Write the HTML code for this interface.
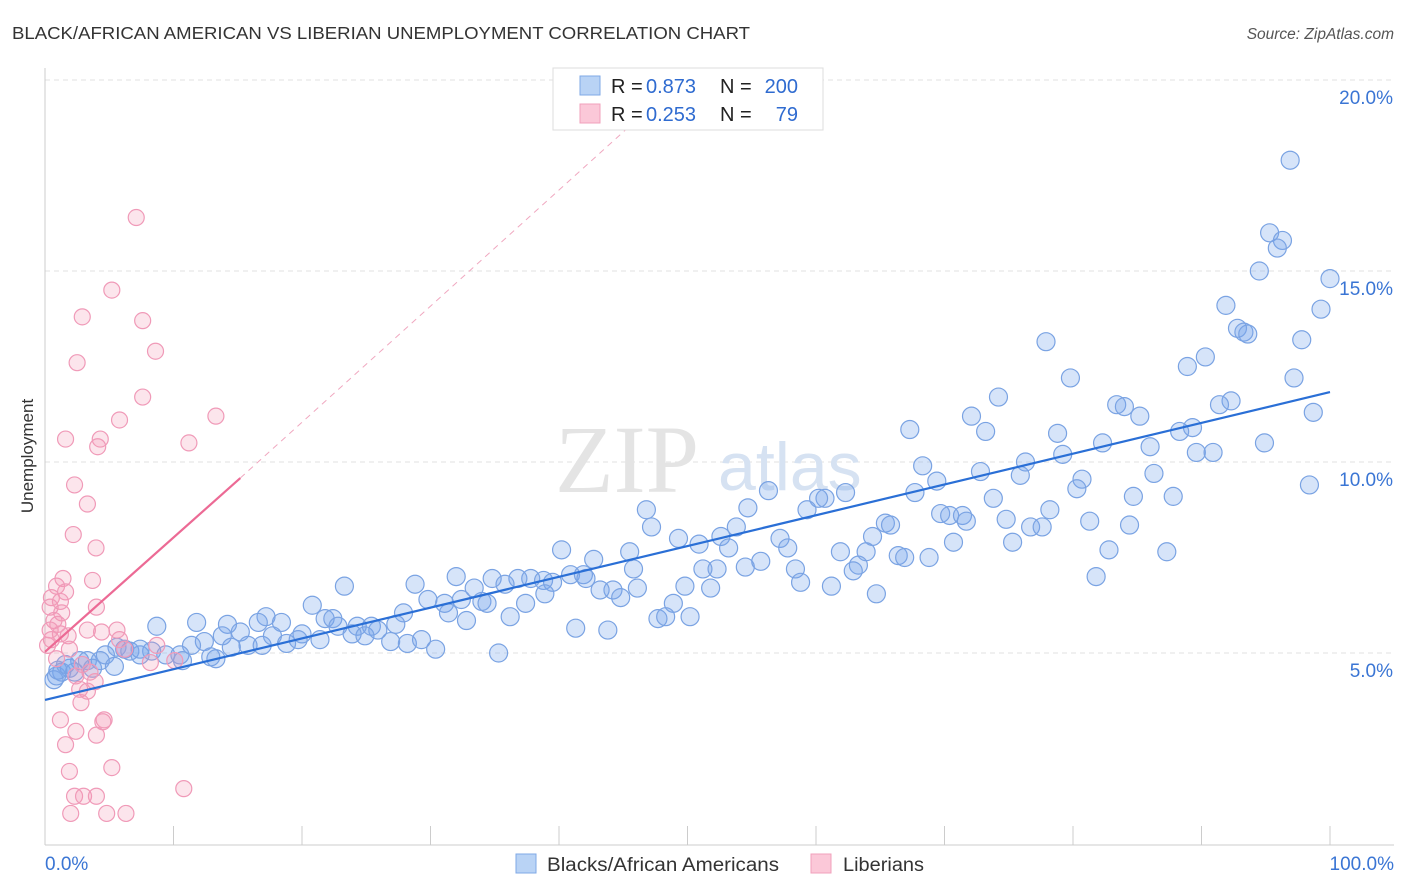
<!DOCTYPE html>
<html><head><meta charset="utf-8">
<style>
body{margin:0;background:#fff;font-family:"Liberation Sans",sans-serif;}
svg{display:block}
</style></head>
<body>
<svg id="chart" width="1406" height="892">
<text x="12" y="39" font-size="17.5" fill="#333" textLength="738" lengthAdjust="spacingAndGlyphs">BLACK/AFRICAN AMERICAN VS LIBERIAN UNEMPLOYMENT CORRELATION CHART</text>
<text x="1394" y="39" font-size="15.5" fill="#555" font-style="italic" text-anchor="end">Source: ZipAtlas.com</text>
<text transform="translate(33,456) rotate(-90)" font-size="17" fill="#333" text-anchor="middle">Unemployment</text>
<g id="grid"></g>
<text x="555" y="492" font-size="96" fill="#e4e4e4" font-family="Liberation Serif,serif">ZIP</text>
<text x="718" y="490" font-size="68" fill="#d6e2f2">atlas</text>
<g id="pts"></g>
<g id="lines"></g>
<g>
<rect x="553" y="68" width="270" height="62" fill="#fff" stroke="#ddd"/>
<rect x="580" y="76" width="20" height="19" fill="#b9d3f5" stroke="#7fa8e6"/>
<rect x="580" y="104" width="20" height="19" fill="#fbc8d8" stroke="#f0a0bb"/>
<text x="611" y="93" font-size="20" fill="#222">R =</text>
<text x="646" y="93" font-size="20" fill="#2f6bd0">0.873</text>
<text x="720" y="93" font-size="20" fill="#222">N =</text>
<text x="798" y="93" font-size="20" fill="#2f6bd0" text-anchor="end">200</text>
<text x="611" y="121" font-size="20" fill="#222">R =</text>
<text x="646" y="121" font-size="20" fill="#2f6bd0">0.253</text>
<text x="720" y="121" font-size="20" fill="#222">N =</text>
<text x="798" y="121" font-size="20" fill="#2f6bd0" text-anchor="end">79</text>
</g>
<g>
<rect x="516" y="854" width="20" height="19" fill="#b9d3f5" stroke="#7fa8e6"/>
<text x="547" y="871" font-size="19" fill="#333" textLength="232" lengthAdjust="spacingAndGlyphs">Blacks/African Americans</text>
<rect x="811" y="854" width="20" height="19" fill="#fbc8d8" stroke="#f0a0bb"/>
<text x="843" y="871" font-size="19" fill="#333" textLength="81" lengthAdjust="spacingAndGlyphs">Liberians</text>
</g>
</svg>
<script>
const yTicks=[5,10,15,20];
const yTickLabels=["5.0%","10.0%","15.0%","20.0%"];
const xTicks=[0,10,20,30,40,50,60,70,80,90,100];
const blueX=[96.9,95.3,96.3,95.9,94.5,100,99.3,91.9,92.8,93.3,93.6,97.8,77.9,90.3,88.9,97.2,79.8,74.2,92.3,91.4,83.4,84.0,72.1,85.2,98.7,67.3,89.3,88.3,73.2,78.8,82.3,94.9,86.0,79.2,89.6,90.9,76.3,68.3,72.8,75.9,86.3,80.7,69.4,98.4,80.3,56.3,62.3,67.7,60.7,84.7,60.2,73.8,87.8,46.8,59.3,54.7,78.2,69.7,70.4,71.4,71.7,74.8,65.4,65.8,81.3,76.7,77.6,47.2,53.8,84.4,64.4,57.2,49.3,52.6,75.3,50.9,70.7,57.8,63.9,61.9,82.8,87.3,45.5,40.2,53.2,66.4,66.9,68.8,42.7,55.7,54.5,52.3,51.2,45.8,63.3,58.4,62.9,32.0,34.8,36.8,37.8,38.8,40.9,41.9,42.1,39.5,23.3,28.8,81.8,35.8,61.2,44.2,46.1,49.8,51.8,58.8,43.2,33.4,38.9,64.7,29.8,31.1,32.4,34.0,34.4,37.4,44.8,48.9,20.8,27.9,31.4,17.2,21.8,22.4,32.8,36.2,47.7,50.2,48.3,8.7,11.8,14.2,16.6,18.4,22.8,24.3,25.4,25.9,27.3,41.3,43.8,13.8,15.2,17.7,20.0,21.4,23.9,24.9,12.4,15.8,16.9,18.8,19.7,26.9,28.2,29.3,30.4,11.4,14.5,5.6,6.6,8.3,9.4,10.5,7.4,6.2,12.9,13.3,10.7,35.3,4.7,2.7,3.3,4.3,3.7,5.4,1.9,2.3,1.3,0.9,0.7,1.0,1.6,7.4];
const blueY=[17.9,16.0,15.8,15.6,15.0,14.8,14.0,14.1,13.5,13.4,13.35,13.2,13.15,12.75,12.5,12.2,12.2,11.7,11.6,11.5,11.5,11.45,11.2,11.2,11.3,10.85,10.9,10.8,10.8,10.75,10.5,10.5,10.4,10.2,10.25,10.25,10.0,9.9,9.75,9.65,9.7,9.55,9.5,9.4,9.3,9.25,9.2,9.2,9.05,9.1,9.05,9.05,9.1,8.75,8.75,8.8,8.75,8.65,8.6,8.6,8.45,8.5,8.4,8.35,8.45,8.3,8.3,8.3,8.3,8.35,8.05,8.0,8.0,8.05,7.9,7.85,7.9,7.75,7.65,7.65,7.7,7.65,7.65,7.7,7.75,7.55,7.5,7.5,7.45,7.4,7.25,7.2,7.2,7.2,7.3,7.2,7.15,7.0,6.95,6.95,6.95,6.9,7.05,7.05,6.95,6.85,6.75,6.8,7.0,6.8,6.75,6.65,6.7,6.75,6.7,6.85,6.65,6.7,6.55,6.55,6.4,6.3,6.4,6.35,6.3,6.3,6.45,6.3,6.25,6.05,6.05,5.95,5.9,5.9,5.85,5.95,5.9,5.95,5.95,5.7,5.8,5.75,5.8,5.8,5.7,5.7,5.7,5.6,5.75,5.65,5.6,5.45,5.55,5.45,5.5,5.35,5.5,5.45,5.3,5.2,5.2,5.25,5.35,5.3,5.25,5.35,5.1,5.2,5.15,5.15,5.05,5.05,4.95,4.95,4.95,5.1,4.9,4.85,4.8,5.0,4.95,4.8,4.8,4.8,4.6,4.65,4.6,4.5,4.5,4.4,4.3,4.55,4.7,5.1];
const pinkX=[7.1,5.2,2.9,7.6,8.6,2.5,7.6,13.3,5.8,1.6,4.3,4.1,11.2,2.3,3.3,2.2,3.97,1.4,3.7,0.9,1.6,0.5,1.2,4.0,0.4,1.3,0.7,1.0,0.4,1.2,1.8,3.3,4.4,5.6,0.5,0.2,8.7,1.9,6.2,0.9,8.2,2.9,3.5,2.4,3.9,2.7,3.3,2.8,1.2,2.4,4.6,4.5,4.0,1.6,5.2,1.9,2.3,3.0,4.0,10.8,2.0,4.8,6.3,10.1,5.8];
const pinkY=[16.4,14.5,13.8,13.7,12.9,12.6,11.7,11.2,11.1,10.6,10.6,10.4,10.5,9.4,8.9,8.1,7.75,6.95,6.9,6.75,6.6,6.45,6.35,6.2,6.2,6.05,5.85,5.75,5.6,5.5,5.45,5.6,5.55,5.6,5.35,5.2,5.2,5.1,5.1,4.85,4.75,4.7,4.5,4.4,4.25,4.05,4.0,3.7,3.25,2.95,3.25,3.2,2.85,2.6,2.0,1.9,1.25,1.25,1.25,1.45,0.8,0.8,0.8,4.8,5.35];
const blueTrend=[[0,3.77],[100,11.83]];
const pinkTrend=[[0,5.03],[15.2,9.58]];
const pinkDash=[[15.2,9.58],[45.2,18.7]];

const X0=45,X1=1330,YB=844,PPY=38.2;
const sx=v=>X0+(X1-X0)*v/100;
const sy=v=>YB-v*PPY;
const NS="http://www.w3.org/2000/svg";
function mk(tag,attrs,parent){const e=document.createElementNS(NS,tag);for(const k in attrs)e.setAttribute(k,attrs[k]);parent.appendChild(e);return e;}
const grid=document.getElementById('grid');
yTicks.forEach((t,i)=>{
  const l=mk('line',{x1:45,x2:1394,y1:sy(t),y2:sy(t),stroke:'#e2e2e2','stroke-dasharray':'5,4'},grid);
  
  
  const tx=mk('text',{x:1393,y:sy(t)+24,'font-size':19,fill:'#3a75d4','text-anchor':'end'},grid);
  tx.textContent=yTickLabels[i];
  
  
});
const ax=mk('line',{x1:45,x2:45,y1:68,y2:845,stroke:'#ccc'},grid);


const bx=mk('line',{x1:45,x2:1394,y1:845,y2:845,stroke:'#ccc'},grid);


xTicks.forEach(t=>{
  const l=mk('line',{x1:sx(t),x2:sx(t),y1:826,y2:845,stroke:'#ccc'},grid);
  
  
});
[[0,"0.0%",'start',45],[100,"100.0%",'end',1394]].forEach(a=>{
  const tx=mk('text',{x:a[3],y:870,'font-size':19,fill:'#3a75d4','text-anchor':a[2]},grid);
  tx.textContent=a[1];
  
  
});
const pts=document.getElementById('pts');
blueX.forEach((x,i)=>{
  const c=mk('circle',{cx:sx(x),cy:sy(blueY[i]),r:9,fill:'rgba(120,165,235,0.3)',stroke:'#7aa3e3','stroke-width':1.2},pts);
  
  
});
pinkX.forEach((x,i)=>{
  const c=mk('circle',{cx:sx(x),cy:sy(pinkY[i]),r:8,fill:'rgba(245,150,180,0.25)',stroke:'#f09ab8','stroke-width':1.2},pts);
  
  
});
const lines=document.getElementById('lines');
const bl=mk('line',{x1:sx(blueTrend[0][0]),y1:sy(blueTrend[0][1]),x2:sx(blueTrend[1][0]),y2:sy(blueTrend[1][1]),stroke:'#2a6fd6','stroke-width':2.2},lines);


const pl=mk('line',{x1:sx(pinkTrend[0][0]),y1:sy(pinkTrend[0][1]),x2:sx(pinkTrend[1][0]),y2:sy(pinkTrend[1][1]),stroke:'#ec6a95','stroke-width':2.2},lines);


const pd=mk('line',{x1:sx(pinkDash[0][0]),y1:sy(pinkDash[0][1]),x2:sx(pinkDash[1][0]),y2:sy(pinkDash[1][1]),stroke:'#f0a8c0','stroke-width':1,'stroke-dasharray':'6,5'},lines);


</script>
</body></html>
